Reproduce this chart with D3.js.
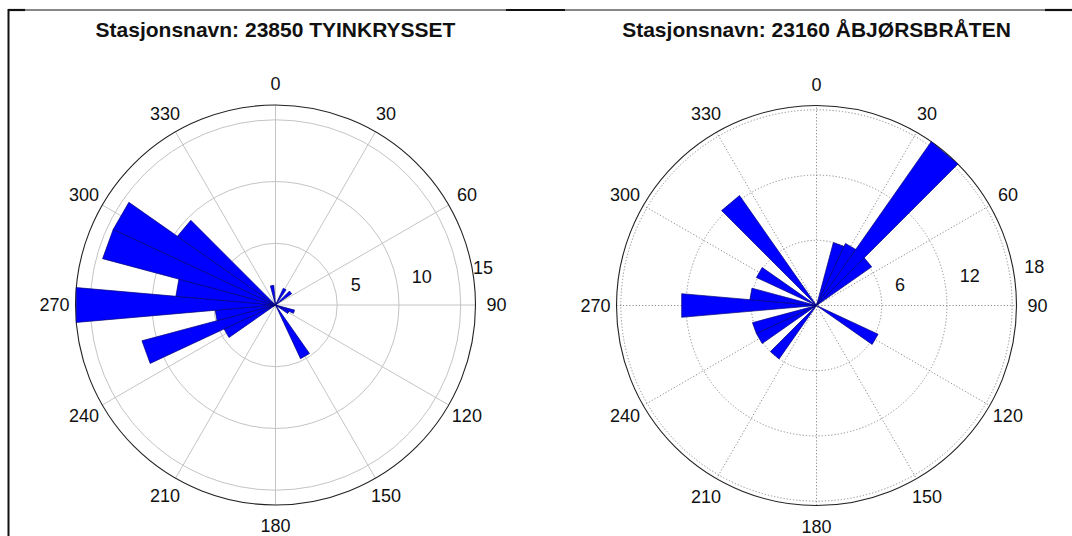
<!DOCTYPE html>
<html><head><meta charset="utf-8">
<script src="https://cdn.jsdelivr.net/npm/d3@7"></script>
<style>html,body{margin:0;padding:0;background:#fff;}svg{display:block;}</style>
</head><body>
<svg id="chart" width="1072" height="536"></svg>
<script>
// ---- data ----
const titles = ["Stasjonsnavn: 23850 TYINKRYSSET", "Stasjonsnavn: 23160 ÅBJØRSBRÅTEN"];
const binWidth = 10;
const directionsLeft = [30, 50, 110, 120, 150, 240, 250, 260, 270, 280, 290, 300, 310, 350];
const valuesLeft     = [1.5, 1.6, 1.6, 1.2, 4.8, 4.6, 11.2, 4.9, 16.2, 8.1, 14.5, 14.5, 9.7, 1.6];
const directionsRight = [20, 30, 40, 50, 120, 220, 240, 250, 270, 280, 300, 320];
const valuesRight     = [6.0, 6.3, 18.4, 6.2, 6.25, 6.0, 6.1, 6.1, 12.45, 6.15, 6.1, 12.35];
const angleTicks = [0, 30, 60, 90, 120, 150, 180, 210, 240, 270, 300, 330];
const rTicksLeft = [5, 10, 15];
const rTicksRight = [6, 12, 18];
const rMaxLeft = 16.2;
const rMaxRight = 18.4;

const svg = d3.select("#chart");

// frame
svg.append("line").attr("x1", 8).attr("x2", 1072).attr("y1", 10).attr("y2", 10).attr("stroke", "#111").attr("stroke-width", 1);
[[8, 25], [506, 565], [1045, 1072]].forEach(s => {
  svg.append("line").attr("x1", s[0]).attr("x2", s[1]).attr("y1", 10).attr("y2", 10).attr("stroke", "#111").attr("stroke-width", 2.2);
});
svg.append("line").attr("x1", 8.5).attr("x2", 8.5).attr("y1", 9).attr("y2", 536).attr("stroke", "#111").attr("stroke-width", 2);

function rose(cfg) {
  const {cx, cy, title, dirs, vals, rTicks, rMax, dotted, gridColor} = cfg;
  const R = 200;
  const r = d3.scaleLinear().domain([0, rMax]).range([0, R]);
  const pt = (deg, rad) => [cx + rad * Math.sin(deg * Math.PI / 180), cy - rad * Math.cos(deg * Math.PI / 180)];
  const g = svg.append("g");

  g.append("text").attr("x", cx).attr("y", 37).attr("text-anchor", "middle")
    .attr("font-family", "Liberation Sans, Arial, sans-serif").attr("font-weight", "bold")
    .attr("font-size", 21).attr("fill", "#111").text(title);

  const dash = dotted ? "1.2,2" : null;
  // spokes (full diameters)
  g.selectAll("line.spoke").data(angleTicks.filter(a => a < 180)).join("line")
    .attr("class", "spoke")
    .attr("x1", d => pt(d + 180, R)[0]).attr("y1", d => pt(d + 180, R)[1])
    .attr("x2", d => pt(d, R)[0]).attr("y2", d => pt(d, R)[1])
    .attr("stroke", gridColor).attr("stroke-width", 1).attr("stroke-dasharray", dash);
  // rings
  g.selectAll("circle.ring").data(rTicks).join("circle")
    .attr("class", "ring").attr("cx", cx).attr("cy", cy).attr("r", d => r(d))
    .attr("fill", "none").attr("stroke", gridColor).attr("stroke-width", 1).attr("stroke-dasharray", dash);
  // outer circle
  g.append("circle").attr("cx", cx).attr("cy", cy).attr("r", R)
    .attr("fill", "none").attr("stroke", "#222").attr("stroke-width", 1.1);

  // wedges
  const data = dirs.map((d, i) => ({dir: d, val: vals[i]}));
  g.selectAll("path.wedge").data(data).join("path")
    .attr("class", "wedge")
    .attr("d", d => {
      const a = pt(d.dir - binWidth / 2, r(d.val));
      const b = pt(d.dir + binWidth / 2, r(d.val));
      return `M${cx},${cy}L${a[0]},${a[1]}L${b[0]},${b[1]}Z`;
    })
    .attr("fill", "#0000ff").attr("stroke", "#00007a").attr("stroke-width", 0.7).attr("stroke-linejoin", "miter");

  // angle labels
  g.selectAll("text.ang").data(angleTicks).join("text")
    .attr("class", "ang")
    .attr("x", d => pt(d, R + 21)[0]).attr("y", d => pt(d, R + 21)[1])
    .attr("text-anchor", "middle").attr("dominant-baseline", "central")
    .attr("font-family", "Liberation Sans, Arial, sans-serif").attr("font-size", 18).attr("fill", "#111")
    .text(d => d);

  // radial tick labels
  const c8 = Math.cos(8 * Math.PI / 180), s8 = Math.sin(8 * Math.PI / 180);
  g.selectAll("text.rt").data(rTicks).join("text")
    .attr("class", "rt")
    .attr("x", d => cx + r(d) * c8 + 14).attr("y", d => cy - r(d) * s8 - 11)
    .attr("text-anchor", "start").attr("dominant-baseline", "central")
    .attr("font-family", "Liberation Sans, Arial, sans-serif").attr("font-size", 18).attr("fill", "#111")
    .text(d => d);
}

rose({cx: 275.5, cy: 305, title: titles[0], dirs: directionsLeft, vals: valuesLeft,
      rTicks: rTicksLeft, rMax: rMaxLeft, dotted: false, gridColor: "#c4c4c4"});
rose({cx: 816.5, cy: 305.5, title: titles[1], dirs: directionsRight, vals: valuesRight,
      rTicks: rTicksRight, rMax: rMaxRight, dotted: true, gridColor: "#8a8a8a"});
</script>
</body></html>
